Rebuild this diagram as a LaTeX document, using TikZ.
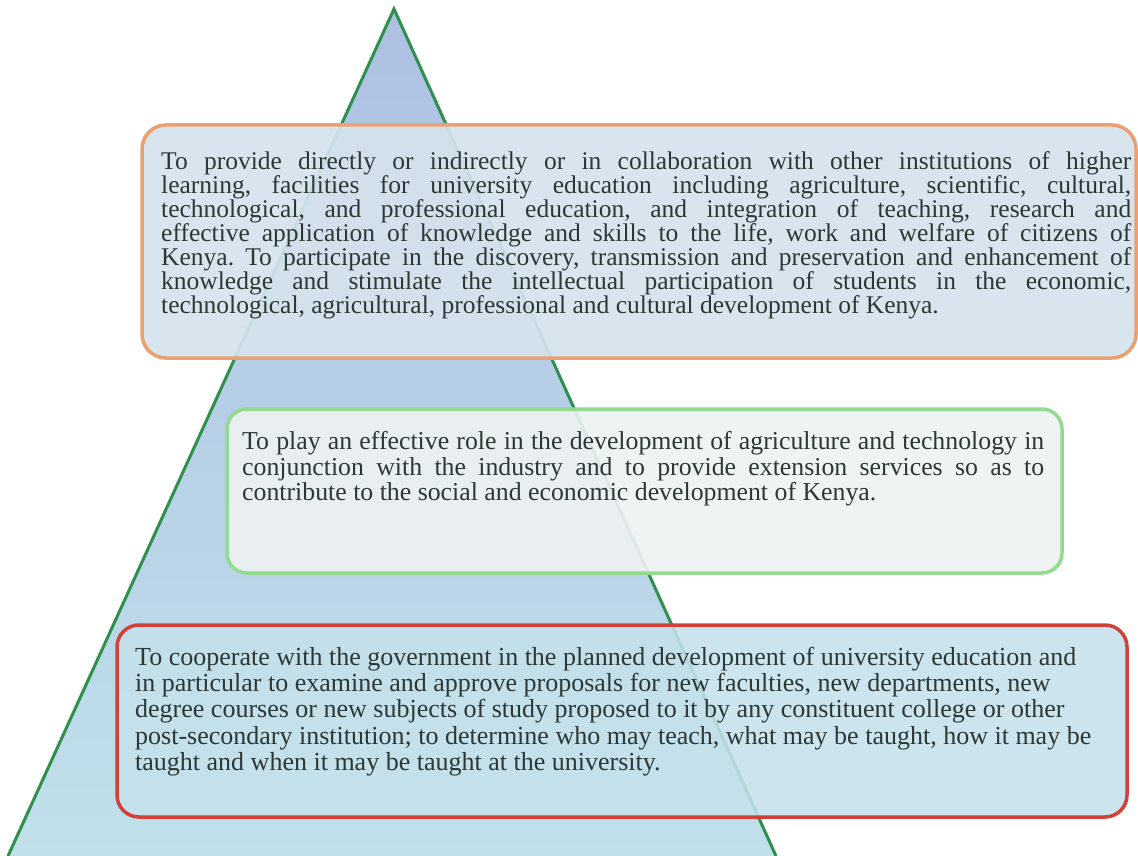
\documentclass[tikz,border=0pt]{standalone}
\usepackage{fontspec}
\setmainfont{Liberation Serif}
\frenchspacing
\definecolor{pyrtop}{HTML}{AEC0E3}
\definecolor{pyrbot}{HTML}{C0E0EA}
\definecolor{pyredge}{HTML}{2E8F4E}
\definecolor{inktext}{HTML}{2C3836}
\definecolor{edgeorange}{HTML}{EBA071}
\definecolor{edgegreen}{HTML}{92DB8E}
\definecolor{edgered}{HTML}{D2403A}
\definecolor{fillone}{HTML}{D5E3ED}
\definecolor{filltwo}{HTML}{EFF2F2}
\definecolor{fillthree}{HTML}{C5E1EB}
\newcommand{\jl}[2]{\makebox[#1][s]{#2}}
\tikzset{
  panel/.style={rounded corners=24pt, line width=3.5pt, fill opacity=0.92},
  body/.style={inner sep=0pt, anchor=north west, align=left, text=inktext},
}
\begin{document}
\begin{tikzpicture}[x=1pt,y=-1pt]
\useasboundingbox (0,0) rectangle (1138,856);
\fill[white] (0,0) rectangle (1138,856);

% pyramid
\coordinate (apex) at (394,9);
\coordinate (baseL) at (8,856);
\coordinate (baseR) at (776,856);
\shade[top color=pyrtop, bottom color=pyrbot] (apex) -- (baseR) -- (baseL) -- cycle;
\draw[pyredge, line width=3pt, line join=miter] (baseL) -- (apex) -- (baseR);

% top panel
\draw[panel, draw=edgeorange, fill=fillone] (142,125) rectangle (1136,358);
\node[body, font=\fontsize{25.5}{24}\selectfont] (t1) at (161,151) {%
\jl{970pt}{To provide directly or indirectly or in collaboration with other institutions of higher}\\
\jl{970pt}{learning, facilities for university education including agriculture, scientific, cultural,}\\
\jl{970pt}{technological, and professional education, and integration of teaching, research and}\\
\jl{970pt}{effective application of knowledge and skills to the life, work and welfare of citizens of}\\
\jl{970pt}{Kenya. To participate in the discovery, transmission and preservation and enhancement of}\\
\jl{970pt}{knowledge and stimulate the intellectual participation of students in the economic,}\\
technological, agricultural, professional and cultural development of Kenya.};

% middle panel
\draw[panel, draw=edgegreen, fill=filltwo, rounded corners=20pt, fill opacity=0.9] (227,409) rectangle (1062,573);
\node[body, font=\fontsize{25.8}{25.3}\selectfont] (t2) at (242,431.5) {%
\jl{802pt}{To play an effective role in the development of agriculture and technology in}\\
\jl{802pt}{conjunction with the industry and to provide extension services so as to}\\
contribute to the social and economic development of Kenya.};

% bottom panel
\draw[panel, draw=edgered, fill=fillthree, rounded corners=22pt, fill opacity=0.88] (117,625) rectangle (1127,817);
\node[body, font=\fontsize{26}{26.2}\selectfont] (t3) at (135,647) {%
To cooperate with the government in the planned development of university education and\\
in particular to examine and approve proposals for new faculties, new departments, new\\
degree courses or new subjects of study proposed to it by any constituent college or other\\
post-secondary institution; to determine who may teach, what may be taught, how it may be\\
taught and when it may be taught at the university.};
\end{tikzpicture}
\end{document}
